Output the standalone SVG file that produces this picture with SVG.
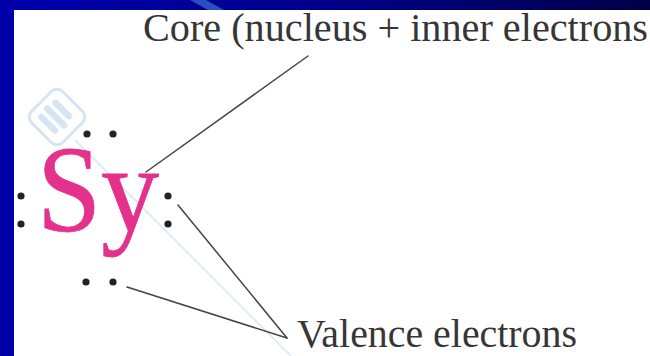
<svg xmlns="http://www.w3.org/2000/svg" width="650" height="356" viewBox="0 0 650 356">
  <defs>
    <linearGradient id="topband" x1="0" y1="0" x2="1" y2="0">
      <stop offset="0" stop-color="#0000b0"/>
      <stop offset="0.5" stop-color="#00008a"/>
      <stop offset="1" stop-color="#000048"/>
    </linearGradient>
    <style>
      .label { font-family: "Liberation Serif", "Times New Roman", serif; fill: #363636; }
      .sym { font-family: "Liberation Serif", "Times New Roman", serif; fill: #e4318c; stroke: #e4318c; stroke-width: 0.8; }
      .dot { fill: #222222; }
      .lead { stroke: #444444; stroke-width: 1.5; fill: none; stroke-linecap: round; }
      .wm { stroke: #d6e5f4; fill: none; }
    </style>
  </defs>

  <!-- background frame -->
  <rect x="0" y="0" width="650" height="356" fill="#ffffff"/>
  <rect x="0" y="0" width="650" height="10" fill="url(#topband)"/>
  <polygon points="190,0 206,0 224,10 208,10" fill="#2a4fc0"/>
  <rect x="0" y="0" width="14" height="356" fill="#0000a8"/>

  <!-- faint watermark -->
  <g id="watermark">
    <line class="wm" x1="75" y1="140" x2="291" y2="356" stroke-width="1.5"/>
    <g transform="translate(57,117) rotate(-45)">
      <rect class="wm" x="-22" y="-22" width="44" height="44" rx="8" stroke-width="3"/>
      <path d="M-11,-11 L-11,8 M-1,-13 L-1,11 M9,-11 L9,8" stroke="#d6e5f4" stroke-width="6.5" stroke-linecap="round" fill="none"/>
    </g>
  </g>

  <!-- connectors -->
  <g id="connectors">
    <line class="lead" x1="146" y1="172" x2="308" y2="56"/>
    <line class="lead" x1="178" y1="205" x2="287" y2="338"/>
    <line class="lead" x1="127" y1="287" x2="287" y2="338"/>
  </g>

  <!-- Lewis symbol node -->
  <g id="symbol">
    <text class="sym" x="37" y="231" font-size="122" textLength="122" lengthAdjust="spacingAndGlyphs">Sy</text>
    <circle class="dot" cx="87" cy="134" r="3.6"/>
    <circle class="dot" cx="113" cy="134" r="3.6"/>
    <circle class="dot" cx="21" cy="196" r="3.6"/>
    <circle class="dot" cx="21" cy="224" r="3.6"/>
    <circle class="dot" cx="168" cy="196" r="3.6"/>
    <circle class="dot" cx="168" cy="224" r="3.6"/>
    <circle class="dot" cx="86" cy="282" r="3.6"/>
    <circle class="dot" cx="113" cy="282" r="3.6"/>
  </g>

  <!-- labels -->
  <g id="core-label">
    <text class="label" x="143" y="41" font-size="40" textLength="505" lengthAdjust="spacingAndGlyphs">Core (nucleus + inner electrons</text>
  </g>
  <g id="valence-label">
    <text class="label" x="297" y="347" font-size="39" textLength="280" lengthAdjust="spacingAndGlyphs">Valence electrons</text>
  </g>
</svg>
